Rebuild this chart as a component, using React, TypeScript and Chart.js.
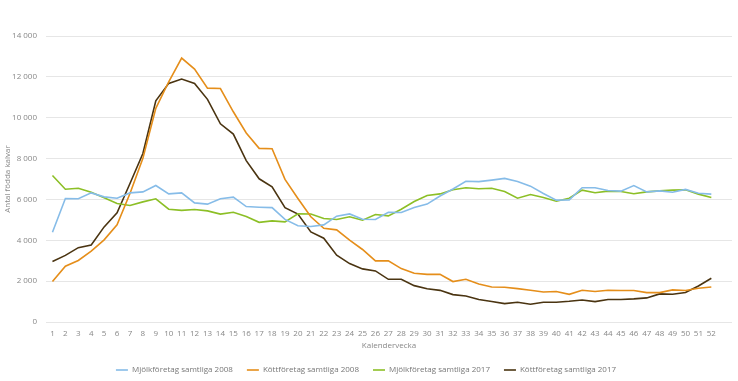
import React, { useEffect, useRef } from "react";
import { Chart, registerables } from "chart.js";

Chart.register(...registerables);

const weeks: number[] = Array.from({ length: 52 }, (_, i) => i + 1);

const seriesNames = [
  "Mjölkföretag samtliga 2008",
  "Köttföretag samtliga 2008",
  "Mjölkföretag samtliga 2017",
  "Köttföretag samtliga 2017",
];

const mjolk2008 = [
  4395, 6046, 6030, 6320, 6125, 6060, 6320, 6370, 6680, 6270,
  6320, 5830, 5770, 6030, 6110, 5650, 5620, 5600, 5020, 4710,
  4675, 4755, 5180, 5290, 5030, 5015, 5375, 5360, 5605, 5770,
  6170, 6510, 6890, 6870, 6945, 7030, 6880, 6650, 6290, 5965,
  5980, 6570, 6570, 6440, 6405, 6680, 6370, 6420, 6355, 6490,
  6305, 6260,
];

const kott2008 = [
  1980, 2730, 3010, 3465, 4020, 4755, 6290, 8010, 10460, 11760,
  12920, 12380, 11450, 11430, 10290, 9250, 8500, 8480, 6980, 6045,
  5150, 4590, 4510, 4005, 3550, 2990, 2990, 2615, 2385, 2330,
  2330, 1980, 2090, 1855, 1715, 1700, 1635, 1555, 1470, 1490,
  1355, 1555, 1490, 1555, 1540, 1540, 1440, 1440, 1570, 1540,
  1650, 1715,
];

const mjolk2017 = [
  7170, 6500, 6550, 6355, 6080, 5800, 5700, 5880, 6030, 5520,
  5465, 5505, 5440, 5280, 5375, 5160, 4880, 4950, 4900, 5300,
  5290, 5065, 5015, 5150, 4985, 5260, 5195, 5520, 5900, 6190,
  6270, 6470, 6570, 6520, 6550, 6390, 6060, 6240, 6095, 5915,
  6060, 6455, 6325, 6405, 6390, 6275, 6370, 6420, 6455, 6470,
  6260, 6095,
];

const kott2017 = [
  2960, 3260, 3640, 3770, 4655, 5340, 6780, 8250, 10830, 11680,
  11890, 11680, 10900, 9700, 9200, 7900, 7010, 6620, 5600, 5280,
  4410, 4100, 3270, 2860, 2600, 2500, 2090, 2090, 1780, 1630,
  1550, 1340, 1270, 1105, 1000, 900, 965, 870, 965, 965,
  1015, 1080, 1000, 1100, 1100, 1130, 1180, 1375, 1360, 1440,
  1765, 2140,
];

const colors = ["#86bce8", "#e58e1a", "#8cbf26", "#4a3411"];
const yTitle = "Antal födda kalvar";
const xTitle = "Kalendervecka";

const fontFamily = "'Open Sans', sans-serif";
const fmt = (v: number) => String(v).replace(/\B(?=(\d{3})+(?!\d))/g, " ");

export default function App() {
  const ref = useRef<HTMLCanvasElement | null>(null);

  useEffect(() => {
    if (!ref.current) return;
    const all = [mjolk2008, kott2008, mjolk2017, kott2017];
    const chart = new Chart(ref.current, {
      type: "line",
      data: {
        datasets: all.map((arr, i) => ({
          label: seriesNames[i],
          data: arr.map((v, j) => ({ x: weeks[j], y: v })),
          borderColor: colors[i],
          backgroundColor: colors[i],
          borderWidth: 1.6,
          pointRadius: 0,
          pointHoverRadius: 0,
          tension: 0,
          fill: false,
        })),
      },
      options: {
        responsive: false,
        animation: false,
        layout: { padding: { left: 0, right: 6, top: 36, bottom: 0 } },
        plugins: {
          tooltip: { enabled: false },
          legend: {
            position: "bottom",
            maxHeight: 29,
            labels: {
              usePointStyle: true,
              pointStyle: "line",
              pointStyleWidth: 12,
              padding: 14,
              color: "#777",
              font: { family: fontFamily, size: 8 },
            },
          },
        },
        scales: {
          x: {
            type: "linear",
            min: 0.5,
            max: 53.6,
            afterFit: (s: any) => {
              s.height = 30;
            },
            grid: { display: false, drawTicks: false },
            border: { display: false },
            ticks: {
              stepSize: 1,
              autoSkip: false,
              includeBounds: false,
              maxRotation: 0,
              minRotation: 0,
              padding: 7,
              color: "#888",
              font: { family: fontFamily, size: 8 },
              callback: (v: any) =>
                Number.isInteger(v) && v >= 1 && v <= 52 ? String(v) : "",
            },
            title: {
              display: true,
              text: xTitle,
              color: "#888",
              font: { family: fontFamily, size: 8 },
              padding: { top: 0, bottom: 1 },
            },
          },
          y: {
            min: 0,
            max: 14000,
            afterFit: (s: any) => {
              s.width = 46;
            },
            grid: { color: "#e6e6e6", lineWidth: 1, drawTicks: false },
            border: { display: false },
            ticks: {
              stepSize: 2000,
              padding: 9,
              color: "#888",
              font: { family: fontFamily, size: 8 },
              callback: (v: any) => fmt(Number(v)),
            },
            title: {
              display: true,
              text: yTitle,
              color: "#888",
              font: { family: fontFamily, size: 8 },
              padding: { top: 3, bottom: 0 },
            },
          },
        },
      },
    });
    return () => chart.destroy();
  }, []);

  return (
    <div style={{ position: "fixed", left: 0, top: 0, width: 738, height: 381, background: "#fff" }}>
      <canvas ref={ref} width={738} height={381} style={{ display: "block" }} />
    </div>
  );
}
